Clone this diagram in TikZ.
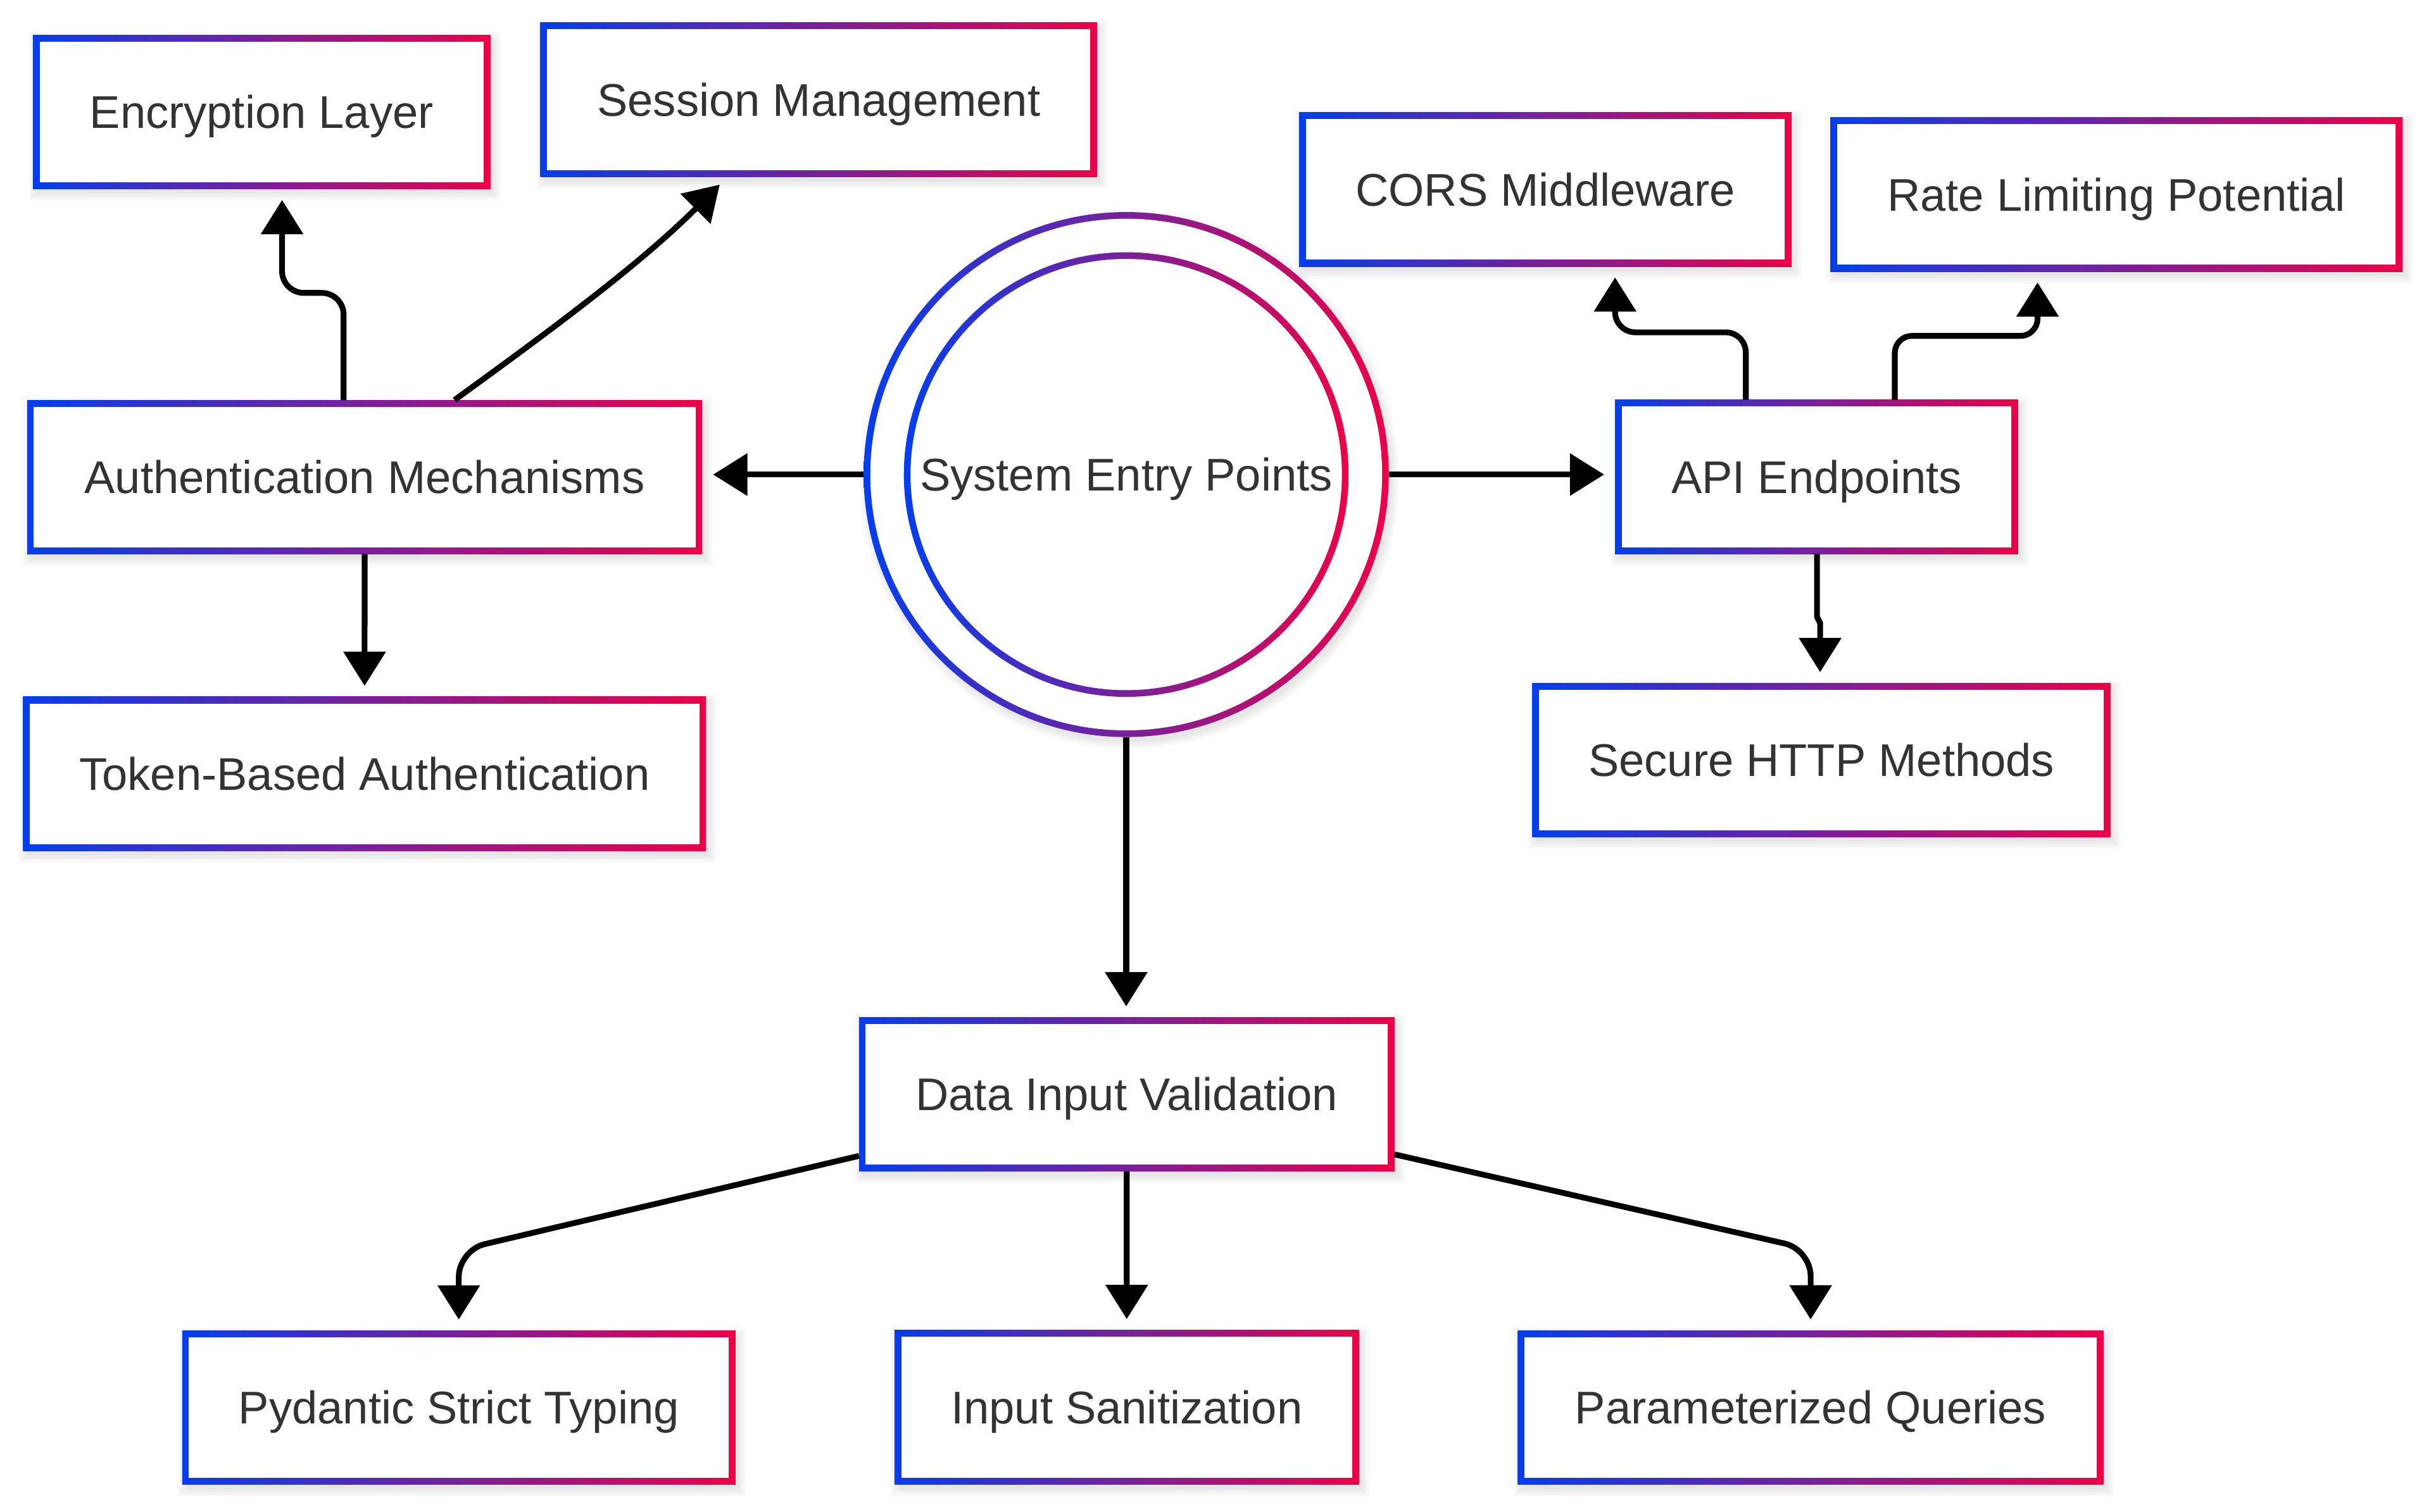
\documentclass[tikz,border=0pt]{standalone}
\usepackage{fontspec}
\setmainfont{Liberation Sans}
\usetikzlibrary{arrows.meta,calc}
\definecolor{gblue}{RGB}{5,62,236}
\definecolor{gred}{RGB}{236,2,72}
\definecolor{txt}{HTML}{333333}
% name, x, y, width, text
\newcommand{\gbox}[5]{%
  \begin{scope}[shift={(#2,#3)}]
    \foreach \sh in {0,1.5,3,4.5}{%
      \fill[black,opacity=0.022] ({-#4/2-\sh+2},{-49.5-\sh+3}) rectangle ({#4/2+\sh+2},{49.5+\sh+3});}
    \shade[left color=gblue,right color=gred] ({-#4/2},-49.5) rectangle ({#4/2},49.5);
    \fill[white] ({-#4/2+4.3},-45.2) rectangle ({#4/2-4.3},45.2);
  \end{scope}
  \node[gnode, minimum width=#4] (#1) at (#2,#3) {#5};
}
\newcommand{\gring}[3]{%
  \shade[left color=gblue,right color=gred] (#1,#2) circle[radius=#3];
  \fill[white] (#1,#2) circle[radius=#3-4.3];
}
\begin{document}
\begin{tikzpicture}[x=1pt,y=-1pt,
  gnode/.style={draw=none, inner sep=0pt, outer sep=0pt, minimum height=99pt,
    text height=21pt, text depth=0pt,
    text=txt, font=\fontsize{29.4}{35}\selectfont},
  arr/.style={draw=black, line width=3.7pt, -{Triangle[length=22pt,width=26.5pt]}, shorten >=7pt}]
\fill[white] (0,0) rectangle (1560,970.12);
\useasboundingbox (0,0) rectangle (1560,970.12);

% central double circle
\foreach \sh in {0,1.5,3,4.5}{\fill[black,opacity=0.022] (724.7,307.6) circle[radius=168.5+\sh];}
\gring{722.7}{304.6}{168.5}
\gring{722.7}{304.6}{142.7}
\node[circle, draw=none, inner sep=0pt, outer sep=0pt, minimum size=337pt,
  text height=21pt, text depth=0pt,
  text=txt, font=\fontsize{29.4}{35}\selectfont] (cir) at (722.7,304.6) {System Entry Points};

% boxes
\gbox{enc}{167.9}{71.85}{293.6}{Encryption Layer}
\gbox{ses}{525.4}{64.05}{357.2}{Session Management}
\gbox{cors}{991.65}{121.55}{316.1}{CORS Middleware}
\gbox{rate}{1358.15}{124.8}{367.1}{Rate Limiting Potential}
\gbox{auth}{234}{306.25}{433.2}{Authentication Mechanisms}
\gbox{api}{1165.7}{306.05}{258.6}{API Endpoints}
\gbox{token}{233.95}{496.75}{438.1}{Token-Based Authentication}
\gbox{sec}{1168.85}{487.95}{371.1}{Secure HTTP Methods}
\gbox{div}{723}{702.45}{343.6}{Data Input Validation}
\gbox{pyd}{294.45}{903.5}{355.1}{Pydantic Strict Typing}
\gbox{san}{723.05}{903.2}{298.1}{Input Sanitization}
\gbox{par}{1161.85}{903.45}{375.7}{Parameterized Queries}

% helper coordinates
\coordinate (e1) at (220.5,188);
\coordinate (e2) at (181,188);
\coordinate (s0) at (291.7,0);
\coordinate (s1) at (466.8,0);
\coordinate (c1) at (1120.3,213.3);
\coordinate (c2) at (1036.4,213.3);
\coordinate (r1) at (1215.9,215.6);
\coordinate (r2) at (1307.5,215.6);
\coordinate (h1) at (1166,396);
\coordinate (h2) at (1168,400);
\coordinate (p1) at (294.4,802.5);
\coordinate (q1) at (1161.9,802);

% connectors
\draw[arr] (cir.west) -- (cir.west -| auth.east);
\draw[arr] (cir.east) -- (cir.east -| api.west);
\draw[arr] (cir.south) -- (cir.south |- div.north);
\draw[arr, rounded corners=14pt] (e1 |- auth.north) -- (e1) -- (e2) -- (e2 |- enc.south);
\draw[arr] (s0 |- auth.north) .. controls +(-36:75) and +(135:80) .. (s1 |- ses.south);
\draw[arr] (auth.south) -- (token.north);
\draw[arr, rounded corners=13pt] (c1 |- api.north) -- (c1) -- (c2) -- (c2 |- cors.south);
\draw[arr, rounded corners=11pt] (r1 |- api.north) -- (r1) -- (r2) -- (r2 |- rate.south);
\draw[arr] (h1 |- api.south) -- (h1) -- (h2) -- (h2 |- sec.north);
\draw[arr] (div.south) -- (san.north);
\draw[arr, rounded corners=17pt] ($(div.south west)+(0,-10)$) -- (p1) -- (p1 |- pyd.north);
\draw[arr, rounded corners=17pt] ($(div.south east)+(0,-11)$) -- (q1) -- (q1 |- par.north);
\end{tikzpicture}
\end{document}
